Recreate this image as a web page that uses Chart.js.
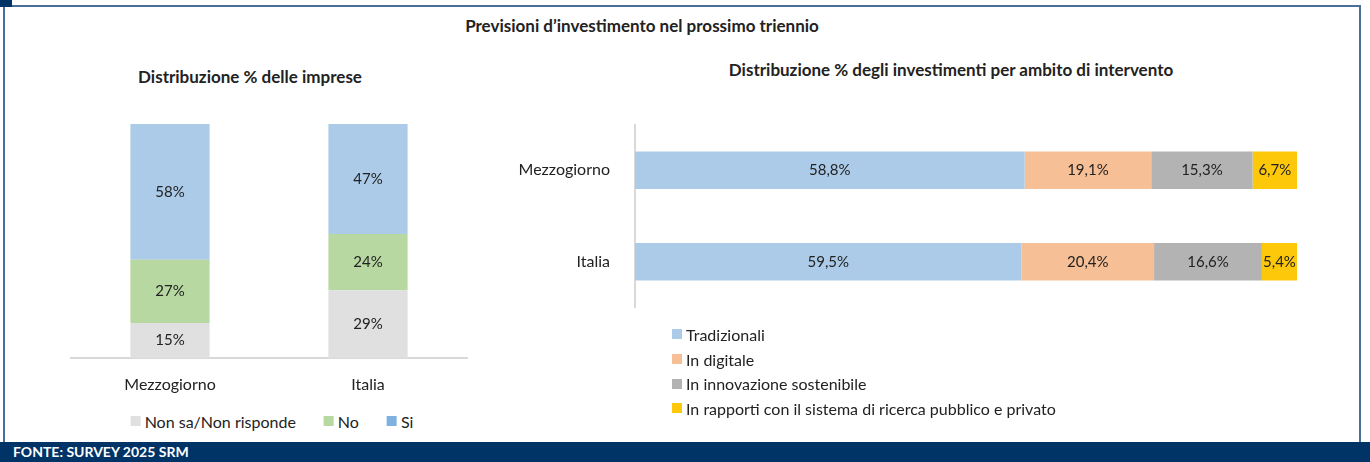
<!DOCTYPE html>
<html>
<head>
<meta charset="utf-8">
<script src="https://cdn.jsdelivr.net/npm/chart.js@4/dist/chart.umd.min.js"></script>
<style>
  html, body { margin: 0; padding: 0; background: #fff; }
  body { width: 1370px; height: 462px; position: relative; overflow: hidden; font-family: Lato, "Open Sans", sans-serif; color: #222; }
  .frame { position: absolute; left: 3px; top: 5px; width: 1358px; height: 437px; border: 2px solid #4a6f98; border-bottom: none; box-sizing: border-box; }
  .corner { position: absolute; left: 0; top: 0; width: 12px; height: 7px; background: #003366; }
  .title { position: absolute; font-weight: bold; white-space: nowrap; transform: translateX(-50%); font-size: 17px; }
  .footer { position: absolute; left: 0; top: 442px; width: 1370px; height: 20px; background: #003366; color: #fff; font-weight: bold; font-size: 14px; line-height: 20px; padding-left: 13px; box-sizing: border-box; }
  canvas { position: absolute; }
  .legend { position: absolute; font-size: 16px; white-space: nowrap; }
  .legend span.box { display: inline-block; width: 10px; height: 10px; margin-right: 4px; }
  #legendLeft { left: 272px; top: 410px; transform: translateX(-50%); display: flex; gap: 28px; }
  #legendLeft div { display: flex; align-items: center; height: 22px; }
  #legendRight { left: 672px; top: 322px; }
  #legendRight div { display: flex; align-items: center; height: 24.7px; }
</style>
</head>
<body>
<div class="frame"></div>
<div class="corner"></div>
<div class="title" style="left:642px; top:15px;">Previsioni d’investimento nel prossimo triennio</div>
<div class="title" style="left:250px; top:66px;">Distribuzione % delle imprese</div>
<div class="title" style="left:951px; top:59px;">Distribuzione % degli investimenti per ambito di intervento</div>

<canvas id="leftChart" width="420" height="310" style="left:60px; top:95px;"></canvas>
<canvas id="rightChart" width="860" height="236" style="left:490px; top:98px;"></canvas>
<div class="legend" id="legendLeft"></div>
<div class="legend" id="legendRight"></div>

<div class="footer">FONTE: SURVEY 2025 SRM</div>

<script>
// Left chart: distribuzione % delle imprese
const areas = ['Mezzogiorno', 'Italia'];
const risposte = ['Non sa/Non risponde', 'No', 'Si'];
const nonSa = [15, 29];
const no = [27, 24];
const si = [58, 47];

// Right chart: distribuzione % degli investimenti
const ambiti = ['Tradizionali', 'In digitale', 'In innovazione sostenibile', 'In rapporti con il sistema di ricerca pubblico e privato'];
const tradizionali = [58.8, 59.5];
const digitale = [19.1, 20.4];
const sostenibile = [15.3, 16.6];
const ricerca = [6.7, 5.4];

const fontFamily = 'Lato, "Open Sans", sans-serif';
const textColor = '#222';

// draw value labels in the middle of each segment
const valueLabels = {
    id: 'valueLabels',
    afterDatasetsDraw(chart, args, opts) {
        const ctx = chart.ctx;
        ctx.save();
        ctx.font = `${opts.size || 14}px ${fontFamily}`;
        ctx.fillStyle = textColor;
        ctx.textAlign = 'center';
        ctx.textBaseline = 'middle';
        chart.data.datasets.forEach((ds, i) => {
            const meta = chart.getDatasetMeta(i);
            meta.data.forEach((el, j) => {
                const raw = ds.raw ? ds.raw[j] : ds.data[j];
                const p = el.getCenterPoint();
                ctx.fillText(opts.format(raw), p.x, p.y);
            });
        });
        ctx.restore();
    }
};

function buildLegend(id, names, colors) {
    const el = document.getElementById(id);
    names.forEach((name, i) => {
        const row = document.createElement('div');
        const box = document.createElement('span');
        box.className = 'box';
        box.style.background = colors[i];
        row.appendChild(box);
        row.appendChild(document.createTextNode(name));
        el.appendChild(row);
    });
}

const leftColors = ['#e0e0e0', '#b7d8a0', '#abcbe8'];
const leftLegendColors = ['#e0e0e0', '#b7d8a0', '#7fb1e0'];

new Chart(document.getElementById('leftChart'), {
    type: 'bar',
    data: {
        labels: areas,
        datasets: [nonSa, no, si].map((arr, i) => ({
            label: risposte[i], data: arr, backgroundColor: leftColors[i]
        }))
    },
    options: {
        responsive: false,
        animation: false,
        layout: { padding: { left: 11, right: 13, top: 29, bottom: 0 } },
        datasets: { bar: { barPercentage: 0.4, categoryPercentage: 1 } },
        scales: {
            x: {
                stacked: true,
                grid: { display: false },
                border: { color: '#d9d9d9', width: 2 },
                ticks: { color: textColor, font: { family: fontFamily, size: 16 }, padding: 9 },
                afterFit(scale) { scale.height = 47; }
            },
            y: { stacked: true, display: false, min: 0, max: 100 }
        },
        plugins: {
            tooltip: { enabled: false },
            legend: { display: false },
            valueLabels: { size: 15, format: v => v + '%' }
        }
    },
    plugins: [valueLabels]
});
buildLegend('legendLeft', risposte, leftLegendColors);

// 100% stacked: share of each row total
const rightSeries = [tradizionali, digitale, sostenibile, ricerca];
const rightColors = ['#abcbe8', '#f7bf96', '#b3b3b3', '#fdc80a'];
const rowTotals = areas.map((_, j) => rightSeries.reduce((s, arr) => s + arr[j], 0));

new Chart(document.getElementById('rightChart'), {
    type: 'bar',
    data: {
        labels: areas,
        datasets: rightSeries.map((arr, i) => ({
            label: ambiti[i],
            data: arr.map((v, j) => v / rowTotals[j] * 100),
            raw: arr,
            backgroundColor: rightColors[i]
        }))
    },
    options: {
        indexAxis: 'y',
        responsive: false,
        animation: false,
        layout: { padding: { left: 10, right: 53, top: 1, bottom: 3 } },
        datasets: { bar: { barPercentage: 0.41, categoryPercentage: 1 } },
        scales: {
            x: { stacked: true, display: false, min: 0, max: 100 },
            y: {
                stacked: true,
                grid: { display: false },
                border: { color: '#d9d9d9', width: 2 },
                ticks: { color: textColor, font: { family: fontFamily, size: 16 }, padding: 17 },
                afterFit(scale) { scale.width = 135; }
            }
        },
        plugins: {
            tooltip: { enabled: false },
            legend: { display: false },
            valueLabels: { size: 15, format: v => v.toFixed(1).replace('.', ',') + '%' }
        }
    },
    plugins: [valueLabels]
});
buildLegend('legendRight', ambiti, rightColors);
</script>
</body>
</html>
